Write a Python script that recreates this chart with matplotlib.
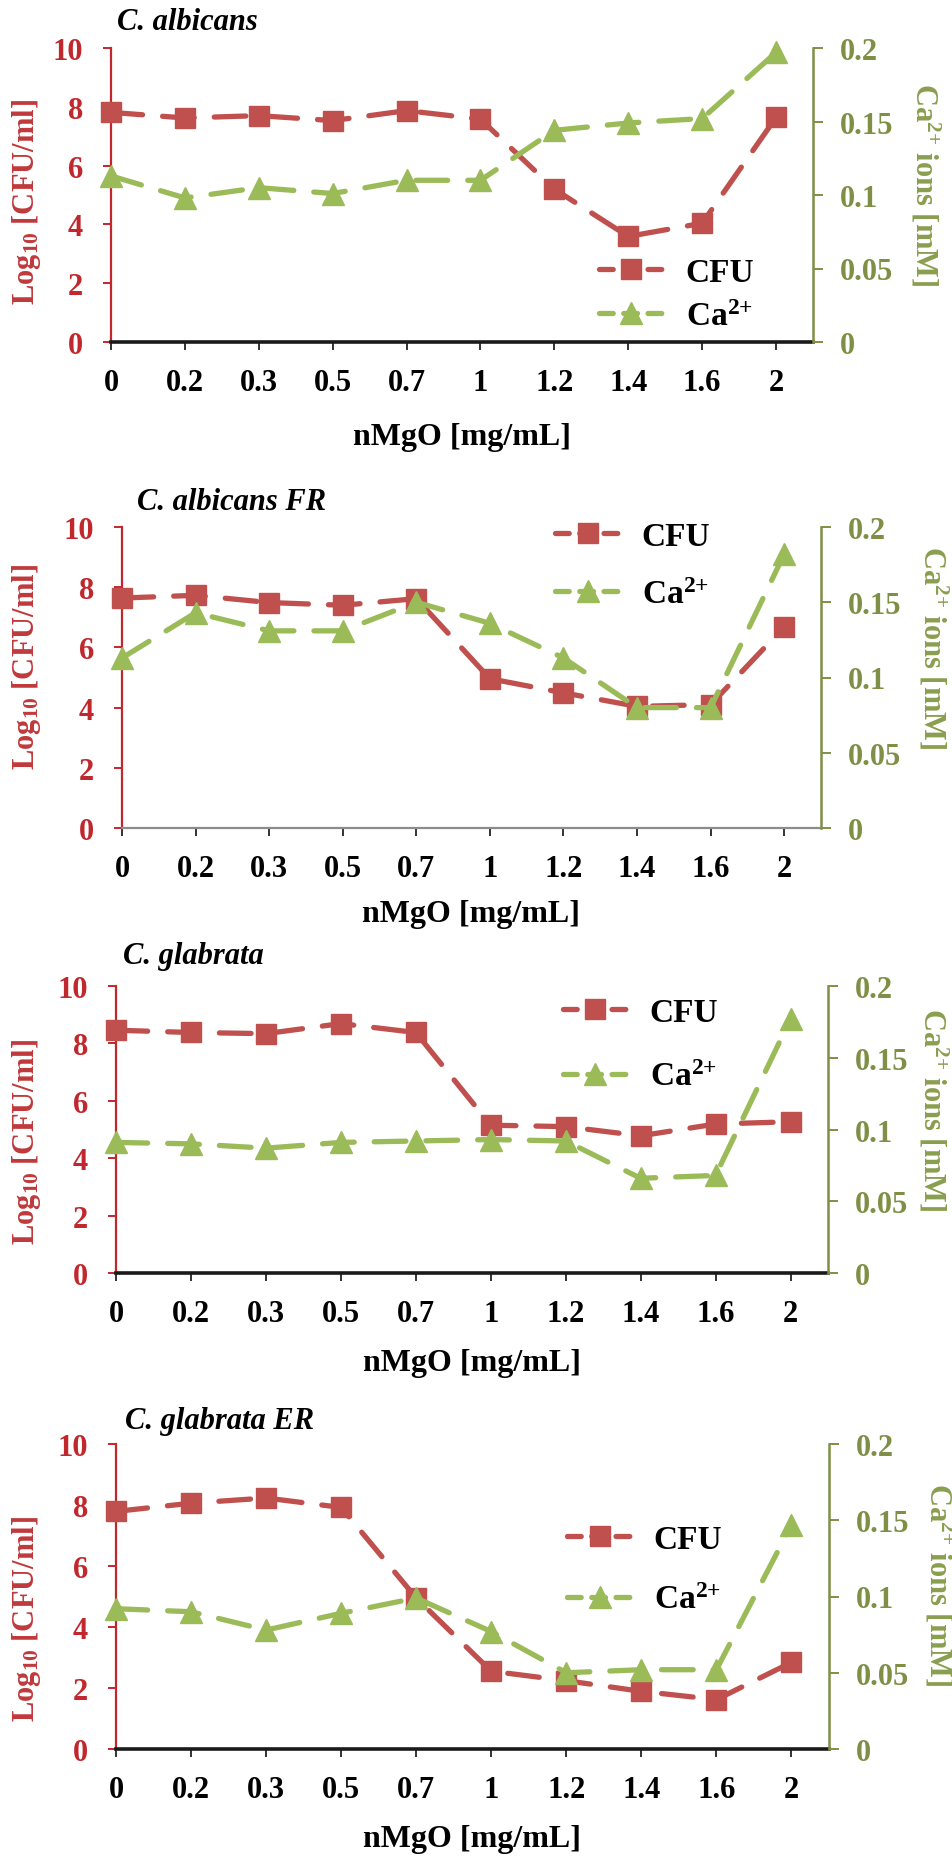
import numpy as np
import matplotlib.pyplot as plt
from matplotlib.lines import Line2D

plt.rcParams['font.family'] = 'Liberation Serif'
plt.rcParams['mathtext.fontset'] = 'custom'
plt.rcParams['mathtext.rm'] = 'Liberation Serif'
plt.rcParams['mathtext.bf'] = 'Liberation Serif:bold'
plt.rcParams['mathtext.it'] = 'Liberation Serif:italic'

# nMgO doses (category axis)
doses = ['0', '0.2', '0.3', '0.5', '0.7', '1', '1.2', '1.4', '1.6', '2']
titles = ['C. albicans', 'C. albicans FR', 'C. glabrata', 'C. glabrata ER']

# log10 CFU/ml
cfu_albicans = [7.81, 7.62, 7.70, 7.53, 7.87, 7.58, 5.20, 3.59, 4.04, 7.64]
cfu_albicans_fr = [7.64, 7.73, 7.49, 7.40, 7.62, 4.96, 4.49, 4.04, 4.10, 6.68]
cfu_glabrata = [8.46, 8.38, 8.34, 8.69, 8.38, 5.15, 5.10, 4.78, 5.19, 5.27]
cfu_glabrata_er = [7.79, 8.06, 8.23, 7.92, 4.95, 2.55, 2.24, 1.89, 1.62, 2.84]

# Ca2+ ions [mM]
ca_albicans = [0.113, 0.098, 0.105, 0.101, 0.110, 0.110, 0.144, 0.149, 0.152, 0.197]
ca_albicans_fr = [0.113, 0.143, 0.131, 0.131, 0.150, 0.136, 0.113, 0.080, 0.080, 0.182]
ca_glabrata = [0.091, 0.090, 0.087, 0.091, 0.092, 0.093, 0.092, 0.066, 0.068, 0.177]
ca_glabrata_er = [0.092, 0.090, 0.078, 0.089, 0.099, 0.077, 0.050, 0.052, 0.052, 0.147]

cfu_all = [cfu_albicans, cfu_albicans_fr, cfu_glabrata, cfu_glabrata_er]
ca_all = [ca_albicans, ca_albicans_fr, ca_glabrata, ca_glabrata_er]

# layout in pixels: axes box (left, right, top, bottom)
W, H = 953, 1858
boxes = [(111, 813, 49, 343), (122, 821, 528, 829), (116, 828, 987, 1274), (116, 829, 1445, 1750)]
title_pos = [(117, 23), (137, 503), (123, 957), (125, 1422)]
xlab_y = [437, 915, 1363, 1840]
ylab_left = [(27, 202), (27, 667), (27, 1142), (27, 1619)]
ylab_right = [(925, 185), (933, 648), (933, 1110), (939, 1585)]
leg_pos = [(599, 276, 0.38), (555, 540, 0.8), (563, 1016, 1.0), (567, 1543, 0.88)]
bottom_col = ['#1a1a1a', '#8c8c8c', '#1a1a1a', '#1a1a1a']

red = '#C0504D'
red_ax = '#C0282D'
green = '#9BBB59'
olive = '#7F8F45'

fig = plt.figure(figsize=(W / 100, H / 100), dpi=100)
x = np.arange(len(doses))

for i in range(4):
    l, r, t, b = boxes[i]
    ax = fig.add_axes([l / W, 1 - b / H, (r - l) / W, (b - t) / H])
    ax2 = ax.twinx()

    ax.plot(x, cfu_all[i], color=red, lw=3.8, dashes=(6, 3.8), dash_capstyle='round',
            marker='s', ms=14, clip_on=False, zorder=3)
    ax2.plot(x, ca_all[i], color=green, lw=3.8, dashes=(6, 3.8), dash_capstyle='round',
             marker='^', ms=16, clip_on=False, zorder=3)

    ax.set_xlim(0, 9.5)
    ax.set_ylim(0, 10)
    ax2.set_ylim(0, 0.2)
    ax.set_xticks(x, doses)
    ax.set_yticks([0, 2, 4, 6, 8, 10])
    ax2.set_yticks([0, 0.05, 0.1, 0.15, 0.2], ['0', '0.05', '0.1', '0.15', '0.2'])

    for s in ['top', 'right']:
        ax.spines[s].set_visible(False)
    for s in ['top', 'left', 'bottom']:
        ax2.spines[s].set_visible(False)
    ax.spines['left'].set_color(red_ax)
    ax.spines['left'].set_linewidth(1.6)
    ax.spines['bottom'].set_color(bottom_col[i])
    ax.spines['bottom'].set_linewidth(2.6 if i != 1 else 1.6)
    ax2.spines['right'].set_color(olive)
    ax2.spines['right'].set_linewidth(1.8)

    ax.tick_params(axis='x', colors='#333333', length=6, width=1.4, pad=13, labelsize=22,
                   labelcolor='black')
    ax.tick_params(axis='y', colors=red_ax, length=6, width=1.4, pad=14, labelsize=22)
    ax2.tick_params(axis='y', colors=olive, length=7, width=1.4, pad=12, labelsize=22)
    for lbl in ax.get_xticklabels() + ax.get_yticklabels() + ax2.get_yticklabels():
        lbl.set_fontweight('bold')

    ax.set_xlabel('nMgO [mg/mL]', fontsize=23, fontweight='bold')
    ax.xaxis.set_label_coords(0.5, (b - xlab_y[i]) / (b - t))
    ax.xaxis.label.set_va('center')

    ax.set_ylabel(r'Log$_\mathbf{10}$ [CFU/ml]', fontsize=22, fontweight='bold', color='#C0393B')
    ax.yaxis.set_label_coords((ylab_left[i][0] - l) / (r - l), (b - ylab_left[i][1]) / (b - t))
    ax.yaxis.label.set_va('center')

    ax2.set_ylabel(r'Ca$^\mathbf{2{+}}$ ions [mM]', fontsize=22, fontweight='bold', color='#8A9E4E',
                   rotation=270)
    ax2.yaxis.set_label_coords((ylab_right[i][0] - l) / (r - l), (b - ylab_right[i][1]) / (b - t))
    ax2.yaxis.label.set_va('center')

    fig.text(title_pos[i][0] / W, 1 - title_pos[i][1] / H, titles[i], fontsize=22,
             fontweight='bold', style='italic', va='center', ha='left')

    # legend proxies: short dash - marker - dash
    p1 = Line2D([], [], color=red, lw=3.8, dashes=(2.6, 2.0), dash_capstyle='round',
                marker='s', ms=14)
    p2 = Line2D([], [], color=green, lw=3.8, dashes=(2.6, 2.0), dash_capstyle='round',
                marker='^', ms=16)
    lx, ly, sp = leg_pos[i]
    leg = ax2.legend([p1, p2], ['CFU', r'Ca$^\mathbf{2{+}}$'], loc='upper left',
                     bbox_to_anchor=(lx / W, 1 - (ly - 18) / H), bbox_transform=fig.transFigure,
                     frameon=False, prop={'size': 24, 'weight': 'bold'}, handlelength=1.95,
                     handletextpad=0.65, labelspacing=sp, borderpad=0, borderaxespad=0)

fig.savefig('out.png', dpi=100)
